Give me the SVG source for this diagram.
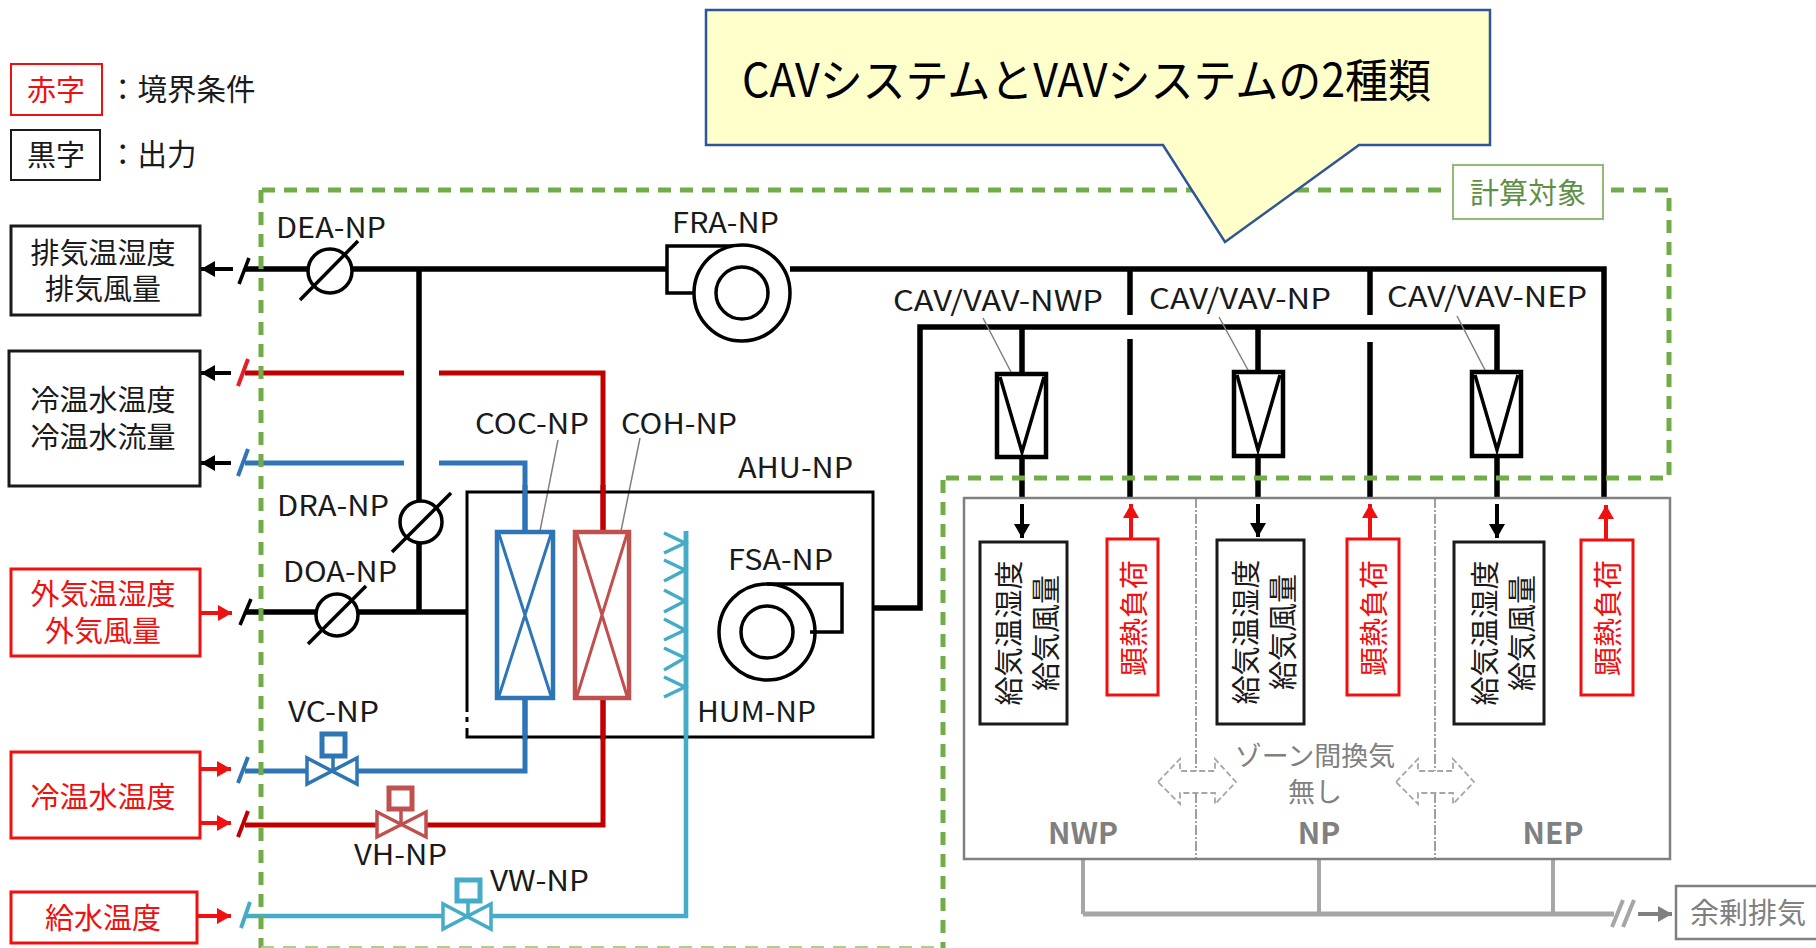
<svg xmlns="http://www.w3.org/2000/svg" width="1816" height="948" viewBox="0 0 1816 948">
<style>
text{font-family:"Noto Sans CJK JP","Noto Sans",sans-serif;fill:#1a1a1a}
.j{font-size:29px;text-anchor:middle;dominant-baseline:central}
.r{fill:#f01010}
.g{fill:#808080}
.l{font-size:28px}
.box{fill:#fff;stroke:#1a1a1a;stroke-width:3}
.rbox{fill:#fff;stroke:#f01010;stroke-width:3}
.duct{fill:none;stroke:#000;stroke-width:5.5}
.thin{fill:none;stroke:#000;stroke-width:3.5}
.ar{fill:none;stroke:#000;stroke-width:4;marker-end:url(#ak)}
.arr{fill:none;stroke:#f01010;stroke-width:4;marker-end:url(#ar)}
.blue{fill:none;stroke:#2e75b6;stroke-width:5}
.red{fill:none;stroke:#c00000;stroke-width:5}
.cy{fill:none;stroke:#45acc8;stroke-width:4.5}
.grn{fill:none;stroke:#70ad47;stroke-width:5;stroke-dasharray:13 9}
.lead{fill:none;stroke:#808080;stroke-width:1.5}
.gl{fill:none;stroke:#a6a6a6;stroke-width:4}
.dv{fill:none;stroke:#808080;stroke-width:1.5;stroke-dasharray:10 2 2 2}
.dar{fill:none;stroke:#a6a6a6;stroke-width:1.8;stroke-dasharray:6 3}
</style>
<defs>
<marker id="ak" markerUnits="userSpaceOnUse" markerWidth="15" markerHeight="16" refX="14" refY="8" orient="auto"><path d="M0 0L14 8L0 16Z" fill="#000"/></marker>
<marker id="ar" markerUnits="userSpaceOnUse" markerWidth="15" markerHeight="16" refX="14" refY="8" orient="auto"><path d="M0 0L14 8L0 16Z" fill="#f01010"/></marker>
<marker id="ag" markerUnits="userSpaceOnUse" markerWidth="15" markerHeight="16" refX="14" refY="8" orient="auto"><path d="M0 0L14 8L0 16Z" fill="#808080"/></marker>
</defs>

<g id="legend">
<rect class="rbox" x="11" y="64" width="91" height="51" style="stroke-width:2"/>
<text class="j r" x="56" y="88">赤字</text>
<text x="108" y="100" style="font-size:29.5px">：境界条件</text>
<rect class="box" x="11" y="130" width="89" height="50" style="stroke-width:2"/>
<text class="j" x="56" y="153">黒字</text>
<text x="108" y="165" style="font-size:29.5px">：出力</text>
</g>

<g id="connectors">
<path class="duct" d="M245 269H667M790 269H1604V497"/>
<path class="duct" d="M419 269V612M245 612H467"/>
<path class="duct" d="M1130 269V315M1130 339V497M1370 269V315M1370 342V497"/>
<path class="duct" d="M873 608H920V327H1497V372M1022 327V374M1258 327V372M1022 457V497M1258 456V497M1497 456V497"/>
<path class="blue" d="M245 463H404M439 463H525V531M525 698V771H357M307 771H245"/>
<path class="red" d="M245 373H404M439 373H603V531M603 698V825H426M377 825H245"/>
<path class="cy" d="M245 916H443M491 916H686V531"/>
<path class="ar" d="M233 269H201"/><path class="ar" d="M231 373H201"/><path class="ar" d="M231 463H201"/>
<path class="arr" d="M200 613H232"/><path class="arr" d="M200 769H231"/><path class="arr" d="M200 823H231"/><path class="arr" d="M197 916H231"/>
<path class="ar" d="M1022 504V538"/><path class="ar" d="M1258 504V537"/><path class="ar" d="M1497 504V538"/>
<path class="arr" d="M1131 539V504"/><path class="arr" d="M1370 539V504"/><path class="arr" d="M1606 540V505"/>
<path class="thin" d="M239 284L249 258M240 625L251 599"/>
<path d="M238 386L248 359" fill="none" stroke="#e0202a" stroke-width="4"/>
<path d="M238 476L248 449M238 783L248 757" fill="none" stroke="#2e75b6" stroke-width="4"/>
<path d="M238 837L248 811" fill="none" stroke="#c00000" stroke-width="4"/>
<path d="M241 928L250 902" fill="none" stroke="#45acc8" stroke-width="4"/>
<path class="lead" d="M558 440L540 531M640 438L621 531M983 318L1011 372M1219 317L1248 370M1457 316L1485 370"/>
<path class="gl" d="M1083 859V914M1319 859V914M1553 859V914"/>
<path class="gl" d="M1083 914H1614" style="stroke-width:5"/>
<path class="gl" d="M1612 927L1623 900M1623 927L1634 900"/>
<path d="M1638 914H1672" fill="none" stroke="#808080" stroke-width="4" marker-end="url(#ag)"/>
</g>

<g id="boundary">
<path class="grn" d="M261 190V948"/>
<path class="grn" d="M262 190H1447"/>
<path class="grn" d="M1611 190H1669V478H945"/>
<path class="grn" d="M943 480V948"/>
<path d="M261 947H943" fill="none" stroke="#a9d18e" stroke-width="2" stroke-dasharray="13 9"/>
</g>

<g id="label-target">
<rect x="1453" y="165" width="150" height="54" fill="#fff" stroke="#8fbc73" stroke-width="2"/>
<text class="j" x="1528" y="191" style="fill:#5f8f45">計算対象</text>
</g>

<g id="ext-exhaust"><rect class="box" x="11" y="226" width="189" height="89"/><text class="j"><tspan x="103" y="251">排気温湿度</tspan><tspan x="103" y="287">排気風量</tspan></text></g>
<g id="ext-water-out"><rect class="box" x="9" y="351" width="191" height="135"/><text class="j"><tspan x="103" y="398">冷温水温度</tspan><tspan x="103" y="435">冷温水流量</tspan></text></g>
<g id="ext-oa"><rect class="rbox" x="11" y="569" width="189" height="87"/><text class="j r"><tspan x="103" y="592">外気温湿度</tspan><tspan x="103" y="629">外気風量</tspan></text></g>
<g id="ext-water-in"><rect class="rbox" x="11" y="752" width="189" height="86"/><text class="j r" x="103" y="795">冷温水温度</text></g>
<g id="ext-supply"><rect class="rbox" x="11" y="892" width="186" height="51"/><text class="j r" x="103" y="916">給水温度</text></g>

<g id="DEA-NP"><circle class="thin" cx="330" cy="271" r="22" style="fill:#fff"/><path class="thin" d="M300 300L358 241"/><text class="l" x="276" y="238" textLength="110" lengthAdjust="spacingAndGlyphs">DEA-NP</text></g>
<g id="DRA-NP"><circle class="thin" cx="421" cy="522" r="21" style="fill:#fff"/><path class="thin" d="M392 552L451 493"/><text class="l" x="277" y="516" textLength="112" lengthAdjust="spacingAndGlyphs">DRA-NP</text></g>
<g id="DOA-NP"><circle class="thin" cx="337" cy="615" r="21" style="fill:#fff"/><path class="thin" d="M308 644L366 586"/><text class="l" x="283" y="582" textLength="114" lengthAdjust="spacingAndGlyphs">DOA-NP</text></g>

<g id="FRA-NP">
<path class="thin" d="M742 246H667V293H700" style="fill:#fff"/>
<circle class="thin" cx="742" cy="293" r="48" style="fill:#fff"/><circle class="thin" cx="742" cy="293" r="26"/>
<text class="l" x="672" y="233" textLength="107" lengthAdjust="spacingAndGlyphs">FRA-NP</text>
</g>

<g id="AHU-NP">
<rect x="467" y="492" width="406" height="245" fill="none" stroke="#000" stroke-width="3"/>
<path d="M467 712V717M467 722V728" stroke="#fff" stroke-width="4"/>
<text class="l" x="738" y="478" textLength="115" lengthAdjust="spacingAndGlyphs">AHU-NP</text>
</g>
<g id="pipe-overlay">
<path class="blue" d="M525 485V531M525 698V740"/><path class="red" d="M603 485V531M603 698V740"/><path class="cy" d="M686 531V740"/>
</g>

<g id="COC-NP"><rect x="497" y="532" width="56" height="166" fill="#fff" stroke="#2e75b6" stroke-width="4.5"/><path d="M499 534L551 696M551 534L499 696" fill="none" stroke="#2e75b6" stroke-width="3"/><text class="l" x="475" y="434" textLength="114" lengthAdjust="spacingAndGlyphs">COC-NP</text></g>
<g id="COH-NP"><rect x="575" y="532" width="54" height="166" fill="#fff" stroke="#c0504d" stroke-width="4.5"/><path d="M577 534L627 696M627 534L577 696" fill="none" stroke="#c0504d" stroke-width="3"/><text class="l" x="621" y="434" textLength="116" lengthAdjust="spacingAndGlyphs">COH-NP</text></g>
<g id="HUM-NP"><path d="M664 533L685 543L664 553M664 560L685 570L664 581M664 590L685 601L664 612M664 619L685 630L664 640M664 648L685 658L664 670M664 677L685 687L664 697" fill="none" stroke="#45acc8" stroke-width="3.5"/><text class="l" x="697" y="722" textLength="119" lengthAdjust="spacingAndGlyphs">HUM-NP</text></g>
<g id="FSA-NP">
<path class="thin" d="M767 584H842V632H810"/>
<circle class="thin" cx="767" cy="632" r="48"/><circle class="thin" cx="767" cy="632" r="26"/>
<text class="l" x="728" y="570" textLength="105" lengthAdjust="spacingAndGlyphs">FSA-NP</text>
</g>

<g id="VC-NP" fill="none" stroke="#2e75b6" stroke-width="3.5"><rect x="322" y="734" width="23" height="22" stroke-width="5"/><path d="M333 756V771M307 758V784L357 758V784Z"/><text class="l" x="288" y="722" textLength="91" lengthAdjust="spacingAndGlyphs" stroke="none">VC-NP</text></g>
<g id="VH-NP" fill="none" stroke="#c0504d" stroke-width="3.5"><rect x="389" y="788" width="23" height="21" stroke-width="5"/><path d="M401 809V825M377 812V837L426 812V837Z"/><text class="l" x="354" y="865" textLength="93" lengthAdjust="spacingAndGlyphs" stroke="none">VH-NP</text></g>
<g id="VW-NP" fill="none" stroke="#45acc8" stroke-width="3.5"><rect x="457" y="880" width="23" height="21" stroke-width="5"/><path d="M468 901V916M443 904V929L491 904V929Z"/><text class="l" x="490" y="891" textLength="99" lengthAdjust="spacingAndGlyphs" stroke="none">VW-NP</text></g>

<g id="CAV-NWP"><rect class="thin" x="997" y="374" width="49" height="83" style="fill:#fff;stroke-width:4.5"/><path class="thin" d="M1000 377L1022 452L1044 377"/><text class="l" x="893" y="311" textLength="210" lengthAdjust="spacingAndGlyphs">CAV/VAV-NWP</text></g>
<g id="CAV-NP"><rect class="thin" x="1234" y="372" width="49" height="84" style="fill:#fff;stroke-width:4.5"/><path class="thin" d="M1237 375L1258 450L1280 375"/><text class="l" x="1149" y="309" textLength="182" lengthAdjust="spacingAndGlyphs">CAV/VAV-NP</text></g>
<g id="CAV-NEP"><rect class="thin" x="1472" y="372" width="49" height="84" style="fill:#fff;stroke-width:4.5"/><path class="thin" d="M1475 375L1497 450L1518 375"/><text class="l" x="1387" y="307" textLength="200" lengthAdjust="spacingAndGlyphs">CAV/VAV-NEP</text></g>

<g id="zones">
<rect x="964" y="498" width="706" height="361" fill="none" stroke="#808080" stroke-width="2.5"/>
<path class="dv" d="M1196 498V771M1196 793V859M1435 498V771M1435 793V859"/>
<path class="dar" d="M1158 782L1180 759V771H1215V759L1236 782L1215 804V793H1180V804Z"/>
<path class="dar" d="M1396 782L1418 759V771H1453V759L1474 782L1453 804V793H1418V804Z"/>
<text class="j g" style="font-size:27px"><tspan x="1315" y="754">ゾーン間換気</tspan><tspan x="1315" y="790">無し</tspan></text>
<text class="j g" x="1083" y="831" style="font-size:30px;font-weight:700">NWP</text>
<text class="j g" x="1319" y="831" style="font-size:30px;font-weight:700">NP</text>
<text class="j g" x="1553" y="831" style="font-size:30px;font-weight:700">NEP</text>
</g>

<g id="zone-NWP-supply"><rect class="box" x="980" y="542" width="87" height="182"/><g transform="translate(1007 633) rotate(-90)"><text class="j">給気温湿度</text></g><g transform="translate(1044 633) rotate(-90)"><text class="j">給気風量</text></g></g>
<g id="zone-NP-supply"><rect class="box" x="1217" y="540" width="87" height="184"/><g transform="translate(1244 632) rotate(-90)"><text class="j">給気温湿度</text></g><g transform="translate(1281 632) rotate(-90)"><text class="j">給気風量</text></g></g>
<g id="zone-NEP-supply"><rect class="box" x="1454" y="542" width="90" height="182"/><g transform="translate(1483 633) rotate(-90)"><text class="j">給気温湿度</text></g><g transform="translate(1520 633) rotate(-90)"><text class="j">給気風量</text></g></g>
<g id="zone-NWP-load"><rect class="rbox" x="1107" y="539" width="51" height="156"/><g transform="translate(1132 618) rotate(-90)"><text class="j r">顕熱負荷</text></g></g>
<g id="zone-NP-load"><rect class="rbox" x="1347" y="539" width="52" height="156"/><g transform="translate(1372 618) rotate(-90)"><text class="j r">顕熱負荷</text></g></g>
<g id="zone-NEP-load"><rect class="rbox" x="1581" y="540" width="52" height="155"/><g transform="translate(1606 618) rotate(-90)"><text class="j r">顕熱負荷</text></g></g>

<g id="surplus"><rect x="1676" y="886" width="142" height="53" fill="#fff" stroke="#808080" stroke-width="2.5"/><text class="j g" x="1748" y="911">余剰排気</text></g>

<g id="callout">
<path d="M706 10H1490V145H1359L1225 242L1163 145H706Z" fill="#ffffcc" stroke="#2f5597" stroke-width="2.5"/>
<text x="742" y="97" style="font-size:46px;fill:#000" textLength="689" lengthAdjust="spacingAndGlyphs">CAVシステムとVAVシステムの2種類</text>
</g>
</svg>
